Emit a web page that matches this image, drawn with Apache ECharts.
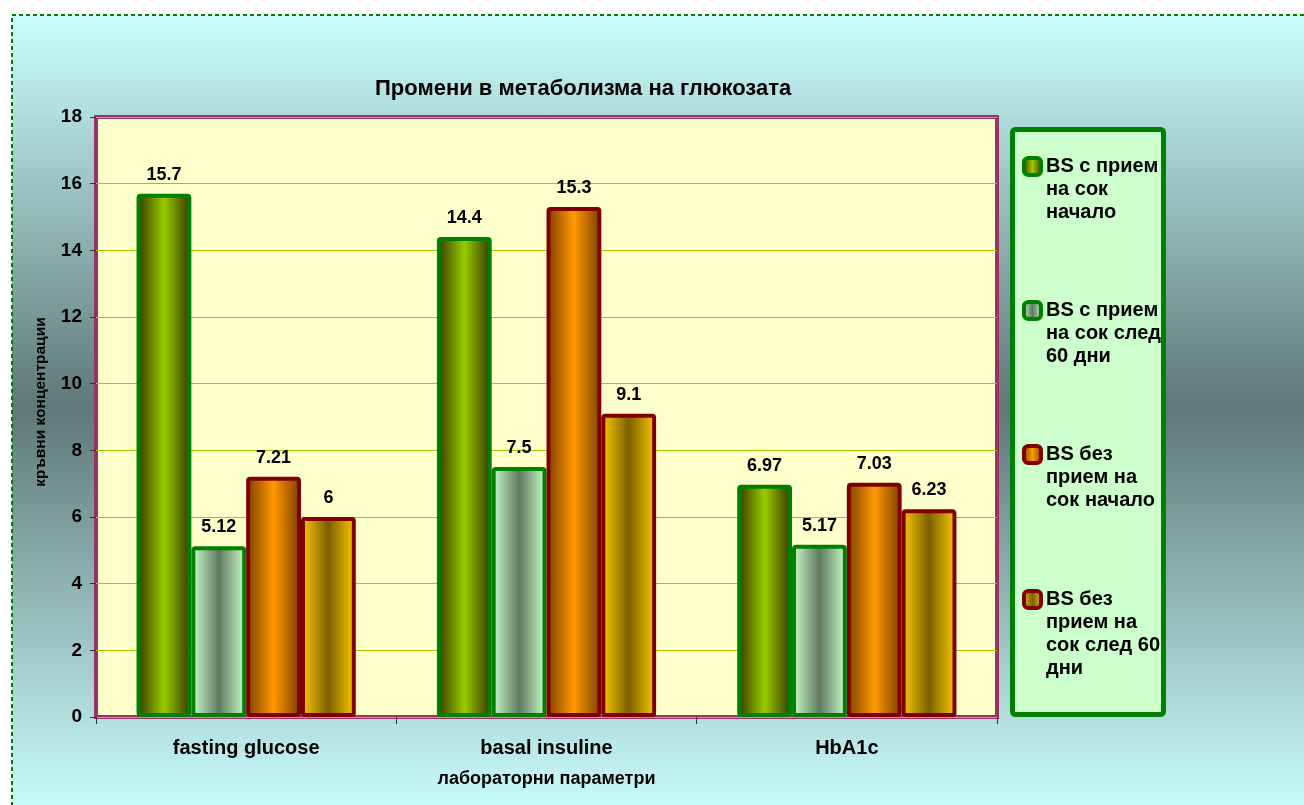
<!DOCTYPE html>
<html>
<head>
<meta charset="utf-8">
<script src="https://cdn.jsdelivr.net/npm/echarts@6/dist/echarts.min.js"></script>
<style>
  html, body { margin: 0; padding: 0; background: #fff; }
  #chart { width: 1304px; height: 805px; }
</style>
</head>
<body>
<div id="chart"></div>
<script>
const categories = ['fasting glucose', 'basal insuline', 'HbA1c'];
const juiceStart = [15.7, 14.4, 6.97];
const juiceAfter60 = [5.12, 7.5, 5.17];
const noJuiceStart = [7.21, 15.3, 7.03];
const noJuiceAfter60 = [6, 9.1, 6.23];

const seriesNames = [
  'BS с прием на сок начало',
  'BS с прием на сок след 60 дни',
  'BS без прием на сок начало',
  'BS без прием на сок след 60 дни'
];
const legendLines = [
  ['BS с прием', 'на сок', 'начало'],
  ['BS с прием', 'на сок след', '60 дни'],
  ['BS без', 'прием на', 'сок начало'],
  ['BS без', 'прием на', 'сок след 60', 'дни']
];

const FONT = 'Arial, "Liberation Sans", sans-serif';

function hGrad(edge, mid) {
  return new echarts.graphic.LinearGradient(0, 0, 1, 0, [
    { offset: 0, color: edge },
    { offset: 0.5, color: mid },
    { offset: 1, color: edge }
  ]);
}

const fills = [
  hGrad('#333300', '#99cc00'),
  hGrad('#ccffcc', '#607a60'),
  hGrad('#7a3d00', '#ff9900'),
  hGrad('#ffcc00', '#7a6000')
];
const borders = ['#008000', '#008000', '#800000', '#800000'];
const values = [juiceStart, juiceAfter60, noJuiceStart, noJuiceAfter60];

const chart = echarts.init(document.getElementById('chart'));

// one legend per entry; blank lines in front keep the icon beside the first text line
const iconTops = [158, 302, 446, 591];
const lineH = 23;
const legends = seriesNames.map((name, i) => {
  const n = legendLines[i].length;
  const blanks = new Array(n - 1).fill('');
  return {
    orient: 'vertical',
    left: 1022,
    top: iconTops[i] + 8.5 - (2 * n - 1) * lineH / 2,
    padding: 0,
    itemWidth: 17,
    itemHeight: 17,
    icon: 'roundRect',
    selectedMode: false,
    data: [name],
    formatter: () => blanks.concat(legendLines[i]).join('\n'),
    itemStyle: { borderWidth: 4 },
    textStyle: {
      fontFamily: FONT,
      fontSize: 20,
      fontWeight: 'bold',
      color: '#000',
      lineHeight: lineH
    }
  };
});

const option = {
  animation: false,
  textStyle: { fontFamily: FONT },
  title: {
    text: 'Промени в метаболизма на глюкозата',
    left: 375,
    top: 78,
    padding: 0,
    textStyle: { fontFamily: FONT, fontSize: 22, fontWeight: 'bold', color: '#000' }
  },
  graphic: [
    {
      type: 'rect',
      z: -10,
      silent: true,
      shape: { x: 12, y: 15, width: 1300, height: 800 },
      style: {
        fill: new echarts.graphic.LinearGradient(0, 0, 0, 1, [
          { offset: 0, color: '#ccffff' },
          { offset: 0.49, color: '#5f7777' },
          { offset: 1, color: '#ccffff' }
        ]),
        stroke: '#008000',
        lineWidth: 2,
        lineDash: [4, 3]
      }
    },
    {
      type: 'rect',
      z: -5,
      silent: true,
      shape: { x: 1012.5, y: 129.5, width: 151, height: 585, r: 3 },
      style: { fill: '#ccffcc', stroke: '#008000', lineWidth: 5 }
    }
  ],
  legend: legends,
  grid: {
    left: 96,
    right: 307,
    top: 117,
    bottom: 88,
    show: true,
    backgroundColor: '#ffffcc',
    borderColor: '#993366',
    borderWidth: 4,
    outerBoundsMode: 'none'
  },
  xAxis: {
    type: 'category',
    data: categories,
    name: 'лабораторни параметри',
    nameLocation: 'middle',
    nameGap: 53,
    nameTextStyle: { fontFamily: FONT, fontSize: 18, fontWeight: 'bold', color: '#000' },
    axisLine: { show: false },
    axisTick: { show: true, length: 7, lineStyle: { color: '#333' } },
    axisLabel: { fontFamily: FONT, fontSize: 20, fontWeight: 'bold', color: '#000', margin: 21 }
  },
  yAxis: {
    type: 'value',
    min: 0,
    max: 18,
    interval: 2,
    name: 'кръвни концентрации',
    nameLocation: 'middle',
    nameGap: 47,
    nameTextStyle: {
      fontFamily: FONT, fontSize: 15.5, fontWeight: 'bold', color: '#000',
      padding: [0, 0, 0, 30]
    },
    axisLine: { show: false },
    axisTick: { show: true, length: 6, lineStyle: { color: '#333' } },
    axisLabel: { fontFamily: FONT, fontSize: 19, fontWeight: 'bold', color: '#000', margin: 14 },
    splitLine: { lineStyle: { color: '#99cc00', width: 1 } }
  },
  series: seriesNames.map((name, i) => ({
    name: name,
    type: 'bar',
    data: values[i],
    barGap: '0%',
    barCategoryGap: '27%',
    itemStyle: {
      color: fills[i],
      borderColor: borders[i],
      borderWidth: 4,
      borderRadius: 2
    },
    label: {
      show: true,
      position: 'top',
      distance: 10,
      fontFamily: FONT,
      fontSize: 18,
      fontWeight: 'bold',
      color: '#000'
    }
  }))
};

chart.setOption(option);
</script>
</body>
</html>
